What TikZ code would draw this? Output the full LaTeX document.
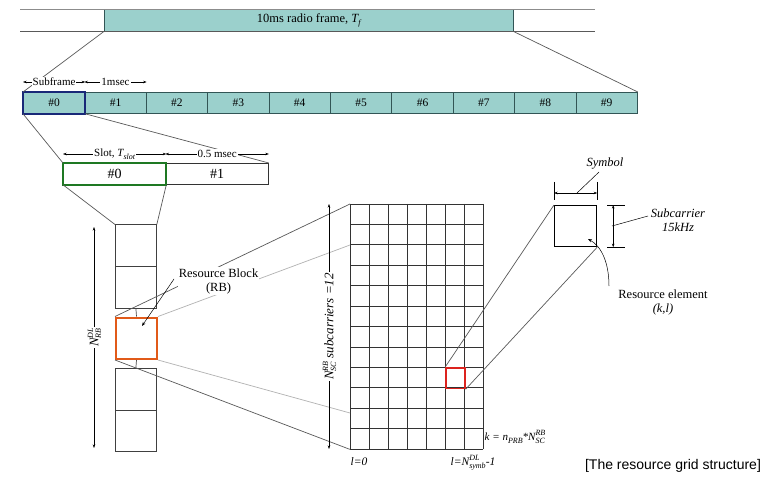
\documentclass[tikz,border=0pt]{standalone}
\usepackage{fontspec}
\setmainfont{Liberation Serif}
\newfontfamily\capfont{Liberation Sans}
\usetikzlibrary{arrows.meta}
\definecolor{tealfill}{RGB}{155,208,204}
\definecolor{celldark}{RGB}{50,85,85}
\definecolor{navyb}{RGB}{25,40,120}
\definecolor{greenb}{RGB}{30,120,35}
\definecolor{orangeb}{RGB}{225,90,25}
\definecolor{redb}{RGB}{220,35,30}
\newcommand{\tss}[2]{{\fontsize{8}{8}\selectfont\ooalign{\raisebox{-2.6pt}{#1}\cr\raisebox{5.2pt}{#2}}}}
\newcommand{\tsb}[1]{{\fontsize{8}{8}\selectfont\raisebox{-2.6pt}{#1}}}
\tikzset{
 cellbox/.style={draw=celldark, fill=tealfill, line width=0.8pt, minimum width=61.4pt, minimum height=21pt, inner sep=0pt, anchor=north west, font=\fontsize{11.5}{12}\selectfont},
 slotbox/.style={draw=black!80, line width=0.8pt, minimum width=102.5pt, minimum height=21pt, inner sep=0pt, anchor=north west, font=\fontsize{14}{14}\selectfont},
 rbbox/.style={draw=black!75, line width=0.8pt, minimum width=41pt, minimum height=41.5pt, inner sep=0pt, anchor=north west},
 dimline/.style={line width=0.5pt, {Stealth[length=3.5pt,width=2.5pt]}-{Stealth[length=3.5pt,width=2.5pt]}},
 dimlbl/.style={fill=white, inner sep=1pt, font=\fontsize{11}{11}\selectfont},
 projdark/.style={draw=black!65, line width=0.7pt},
 projlight/.style={draw=black!30, line width=0.7pt},
 biglbl/.style={font=\fontsize{12.5}{14}\selectfont, align=center, inner sep=1pt},
 gridline/.style={draw=black!80, line width=0.8pt},
 leader/.style={draw=black, line width=0.5pt},
 gridlbl/.style={font=\itshape\fontsize{11.5}{12}\selectfont, inner sep=0.5pt},
}
\begin{document}
\begin{tikzpicture}[x=1pt,y=-1pt]
\useasboundingbox[fill=white] (0,0) rectangle (776,478);

% ---- top radio frame
\coordinate (fl1) at (20,10); \coordinate (fr1) at (595,10);
\coordinate (fl2) at (20,31); \coordinate (fr2) at (595,31);
\draw[draw=black!45, line width=1pt] (fl1) -- (fr1);
\draw[draw=black!65, line width=0.9pt] (fl2) -- (fr2);
\node[fill=tealfill, minimum width=409pt, minimum height=21pt, inner sep=0pt, anchor=north west, font=\fontsize{12.5}{13}\selectfont] (frame) at (104,10) {10ms radio frame, \textit{T\tsb{f}}};
\draw[draw=celldark, line width=0.9pt] (frame.north west) -- (frame.south west);
\draw[draw=celldark, line width=0.9pt] (frame.north east) -- (frame.south east);

% ---- subframes
\foreach \i in {0,...,9}{
  \node[cellbox] (sf\i) at ({23+\i*61.4},92) {\#\i};
}
\draw[draw=navyb, line width=2pt] (sf0.north west) rectangle (sf0.south east);
\draw[projdark] (frame.south west) -- (sf0.north west);
\draw[projdark] (frame.south east) -- (sf9.north east);
\draw[dimline] ([yshift=10pt]sf0.north west) -- node[dimlbl]{Subframe} ([yshift=10pt]sf0.north east);
\draw[dimline] ([yshift=10pt]sf1.north west) -- node[dimlbl]{1msec} ([yshift=10pt]sf1.north east);

% ---- slots
\node[slotbox] (sl0) at (63,163) {\#0};
\node[slotbox] (sl1) at (165.5,163) {\#1};
\draw[draw=greenb, line width=2pt] (sl0.north west) rectangle (sl0.south east);
\draw[projdark] (sf0.south west) -- (sl0.north west);
\draw[projdark] (sf0.south east) -- (sl1.north east);
\draw[dimline] ([yshift=9pt]sl0.north west) -- node[dimlbl]{Slot, \textit{T\tsb{slot}}} ([yshift=9pt]sl0.north east);
\draw[dimline] ([yshift=9pt]sl1.north west) -- node[dimlbl]{0.5 msec} ([yshift=9pt]sl1.north east);

% ---- resource block column
\node[rbbox] (rb1) at (115,224.5) {};
\node[rbbox] (rb2) at (115,266) {};
\node[rbbox, draw=orangeb, line width=2pt] (rbo) at (115,316.5) {};
\node[rbbox] (rb4) at (115,368) {};
\node[rbbox] (rb5) at (115,409.5) {};
\draw[projdark] (sl0.south west) -- (rb1.north west);
\draw[projdark] (sl0.south east) -- (rb1.north east);
\draw[draw=black!70, line width=0.7pt] (rb2.south) -- (rbo.north);
\draw[draw=black!70, line width=0.7pt] (rbo.south) -- (rb4.north);

\coordinate (nrbT) at (94,227); \coordinate (nrbB) at (94,448);
\draw[dimline] (nrbT) -- node[midway, rotate=90, fill=white, inner sep=1pt, font=\itshape\fontsize{13}{13}\selectfont]{N\tss{RB}{DL}} (nrbB);

% ---- resource grid
\node[minimum width=133pt, minimum height=245pt, inner sep=0pt, anchor=north west] (grid) at (350,204) {};
\foreach \i in {0,...,7}{
  \draw[gridline] ([xshift=\i*19pt]grid.north west) -- ([xshift=\i*19pt]grid.south west);
}
\foreach \j in {0,...,12}{
  \draw[gridline] ([yshift=-\j*20.4167pt]grid.north west) -- ([yshift=-\j*20.4167pt]grid.north east);
}
\node[draw=redb, line width=1.6pt, minimum width=19pt, minimum height=20.4pt, inner sep=0pt, anchor=north west] (re) at (445,367.3) {};

\coordinate (g2) at (350,245);
\coordinate (g10) at (350,413);
\draw[projdark] (rbo.north west) -- (grid.north west);
\draw[projlight] (rbo.north east) -- (g2);
\draw[projdark] (rbo.south west) -- (grid.south west);
\draw[projlight] (rbo.south east) -- (g10);

\node[biglbl, fill=white] (rblbl) at (218.5,281) {Resource Block\\(RB)};
\coordinate (rbp) at (174,279);
\coordinate (rbt) at (142,326);
\draw[leader, -{Stealth[length=4pt,width=3pt]}] (rbp) -- (rbt);

\coordinate (nscT) at (329,204); \coordinate (nscB) at (329,449);
\draw[dimline] (nscT) -- node[midway, rotate=90, fill=white, inner sep=1pt, font=\itshape\fontsize{13}{13}\selectfont]{N\tss{SC}{RB} subcarriers =12} (nscB);

\node[gridlbl] (l0) at (359,462) {l=0};
\node[gridlbl] (lN) at (473,462) {l=N\tss{symb}{DL}-1};
\node[gridlbl, font=\itshape\fontsize{11}{12}\selectfont, anchor=west] (kl) at (484,438) {k = n\tsb{PRB}*N\tss{SC}{RB}};

% ---- resource element zoom
\node[draw=black, line width=1.2pt, minimum width=42pt, minimum height=41pt, inner sep=0pt, anchor=north west] (reb) at (554,205) {};
\draw[projdark] (re.north west) -- (reb.north west);
\draw[projdark] (re.south east) -- (reb.south east);

% symbol dimension
\draw[leader] ([yshift=23pt]reb.north west) -- ([yshift=5pt]reb.north west);
\draw[leader] ([yshift=23pt]reb.north east) -- ([yshift=5pt]reb.north east);
\draw[dimline] ([yshift=12pt]reb.north west) -- ([yshift=12pt]reb.north east);
\node[font=\itshape\fontsize{12.5}{13}\selectfont] (sym) at (605,164) {Symbol};
\coordinate (symA) at (599,172); \coordinate (symB) at (577,193);
\draw[leader] (symA) -- (symB);

% subcarrier dimension
\draw[leader] ([xshift=10pt]reb.north east) -- ([xshift=28pt]reb.north east);
\draw[leader] ([xshift=10pt]reb.south east) -- ([xshift=28pt]reb.south east);
\draw[dimline] ([xshift=16pt]reb.north east) -- ([xshift=16pt]reb.south east);
\node[font=\itshape\fontsize{12.5}{14}\selectfont, align=center] (subc) at (678,220.5) {Subcarrier\\15kHz};
\coordinate (scA) at (612,226); \coordinate (scB) at (648,216);
\draw[leader] (scA) -- (scB);

% resource element label
\node[font=\fontsize{12.5}{14}\selectfont, align=center] (relbl) at (663,302) {Resource element\\\textit{(k,l)}};
\coordinate (reA) at (609,286); \coordinate (reT) at (588,239);
\draw[leader, -{Stealth[length=4pt,width=3pt]}] (reA) .. controls (609,262) and (601,246) .. (reT);

% caption
\node[font=\capfont\fontsize{14}{14}\selectfont] (cap) at (673,466) {[The resource grid structure]};
\end{tikzpicture}
\end{document}
